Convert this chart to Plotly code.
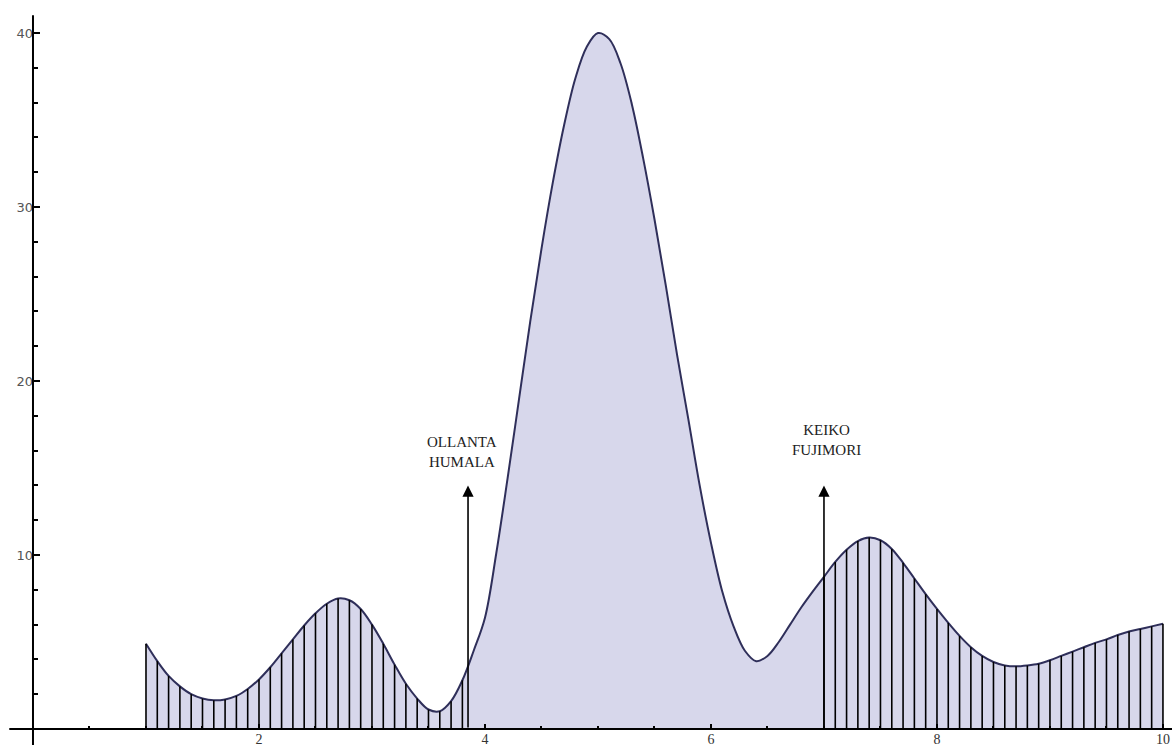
import plotly.graph_objects as go

# ---- data ----
x_vals = [1.0, 1.1, 1.2, 1.3, 1.4, 1.5, 1.6, 1.7, 1.8, 1.9,
          2.0, 2.1, 2.2, 2.3, 2.4, 2.5, 2.6, 2.7, 2.8, 2.9,
          3.0, 3.1, 3.2, 3.3, 3.4, 3.5, 3.6, 3.7, 3.8, 3.9,
          4.0, 4.1, 4.2, 4.3, 4.4, 4.5, 4.6, 4.7, 4.8, 4.9,
          5.0, 5.1, 5.2, 5.3, 5.4, 5.5, 5.6, 5.7, 5.8, 5.9,
          6.0, 6.1, 6.2, 6.3, 6.4, 6.5, 6.6, 6.7, 6.8, 6.9,
          7.0, 7.1, 7.2, 7.3, 7.4, 7.5, 7.6, 7.7, 7.8, 7.9,
          8.0, 8.1, 8.2, 8.3, 8.4, 8.5, 8.6, 8.7, 8.8, 8.9,
          9.0, 9.1, 9.2, 9.3, 9.4, 9.5, 9.6, 9.7, 9.8, 9.9, 10.0]
y_vals = [4.9, 3.9, 3.05, 2.45, 2.0, 1.75, 1.65, 1.7, 1.9, 2.3,
          2.85, 3.55, 4.35, 5.15, 5.95, 6.65, 7.2, 7.5, 7.4, 6.9,
          6.0, 4.9, 3.7, 2.6, 1.75, 1.12, 1.02, 1.6, 2.8, 4.5,
          6.4, 10.1, 14.4, 18.9, 23.4, 27.6, 31.4, 34.7, 37.4, 39.2,
          40.0, 39.65, 38.25, 35.9, 32.8, 29.3, 25.5, 21.5, 17.8, 14.0,
          10.7, 7.9, 5.9, 4.5, 3.9, 4.2, 5.0, 6.0, 7.0, 7.9,
          8.75, 9.6, 10.3, 10.8, 11.0, 10.85, 10.35, 9.55, 8.65, 7.75,
          6.9, 6.1, 5.35, 4.7, 4.2, 3.85, 3.65, 3.6, 3.65, 3.75,
          3.95, 4.2, 4.45, 4.7, 4.95, 5.15, 5.4, 5.6, 5.75, 5.9, 6.05]

hatched_ranges = [(1.0, 3.85), (7.0, 10.0)]

candidates = ["OLLANTA<br>HUMALA", "KEIKO<br>FUJIMORI"]
candidate_x = [3.85, 7.0]
arrow_top = 14
label_x = [3.80, 7.02]
label_y = [15.9, 16.6]

x_ticks = [2, 4, 6, 8, 10]
y_ticks = [10, 20, 30, 40]

# ---- figure ----
X_RANGE = [-0.292, 10.08]
Y_RANGE = [-1.034, 41.9]

fig = go.Figure()

fig.add_trace(go.Scatter(
    x=x_vals, y=y_vals, mode="lines",
    line=dict(color="#2f2f5a", width=2, shape="spline", smoothing=1.0),
    fill="tozeroy", fillcolor="rgb(215,215,235)",
    hoverinfo="skip", showlegend=False))

# vertical hatching stems at sample points inside hatched ranges
sx, sy = [], []
for xv, yv in zip(x_vals, y_vals):
    if any(a - 1e-9 <= xv <= b + 1e-9 for a, b in hatched_ranges):
        sx += [xv, xv, None]
        sy += [0, yv, None]
fig.add_trace(go.Scatter(
    x=sx, y=sy, mode="lines",
    line=dict(color="black", width=1.6),
    hoverinfo="skip", showlegend=False))

for name, cx, lx, ly in zip(candidates, candidate_x, label_x, label_y):
    fig.add_annotation(
        x=cx, y=arrow_top, ax=cx, ay=0,
        xref="x", yref="y", axref="x", ayref="y",
        text="", showarrow=True, arrowhead=2, arrowsize=1.4,
        arrowwidth=1.6, arrowcolor="black")
    fig.add_annotation(
        x=lx, y=ly, xref="x", yref="y", text=name, showarrow=False,
        font=dict(family="Liberation Serif", size=15, color="#222"),
        align="center")

# axis lines crossing at the origin
fig.add_shape(type="line", xref="x", yref="y", x0=-0.21, x1=X_RANGE[1],
              y0=0, y1=0, line=dict(color="black", width=2), layer="above")
fig.add_shape(type="line", xref="x", yref="y", x0=0, x1=0,
              y0=-0.92, y1=41.03, line=dict(color="black", width=2), layer="above")

x_pos = (0 - Y_RANGE[0]) / (Y_RANGE[1] - Y_RANGE[0])
y_pos = (0 - X_RANGE[0]) / (X_RANGE[1] - X_RANGE[0])

fig.update_layout(
    width=1172, height=747,
    margin=dict(l=0, r=0, t=0, b=0),
    plot_bgcolor="white", paper_bgcolor="white",
    xaxis=dict(range=X_RANGE, anchor="free", position=x_pos,
               showgrid=False, zeroline=False, showline=False,
               tickmode="array", tickvals=x_ticks,
               ticktext=[str(v) for v in x_ticks],
               ticks="inside", ticklen=5, tickwidth=1.5, tickcolor="black",
               minor=dict(tickmode="linear", tick0=0, dtick=0.5, ticks="inside",
                          ticklen=3, tickwidth=1.5, tickcolor="black"),
               tickfont=dict(family="Liberation Serif", size=14, color="#333"),
               automargin=False, fixedrange=True),
    yaxis=dict(range=Y_RANGE, anchor="free", position=y_pos,
               showgrid=False, zeroline=False, showline=False,
               tickmode="array", tickvals=y_ticks,
               ticktext=[str(v) for v in y_ticks],
               ticks="inside", ticklen=6, tickwidth=1.5, tickcolor="black",
               minor=dict(tickmode="linear", tick0=0, dtick=2, ticks="inside",
                          ticklen=4, tickwidth=1.5, tickcolor="black"),
               tickfont=dict(family="DejaVu Sans", size=13, color="#555"),
               automargin=False, fixedrange=True),
)

fig.write_html(
    "out.html",
    config={"displayModeBar": False},
    post_script="document.body.style.margin='0';document.body.style.overflow='hidden';",
)
